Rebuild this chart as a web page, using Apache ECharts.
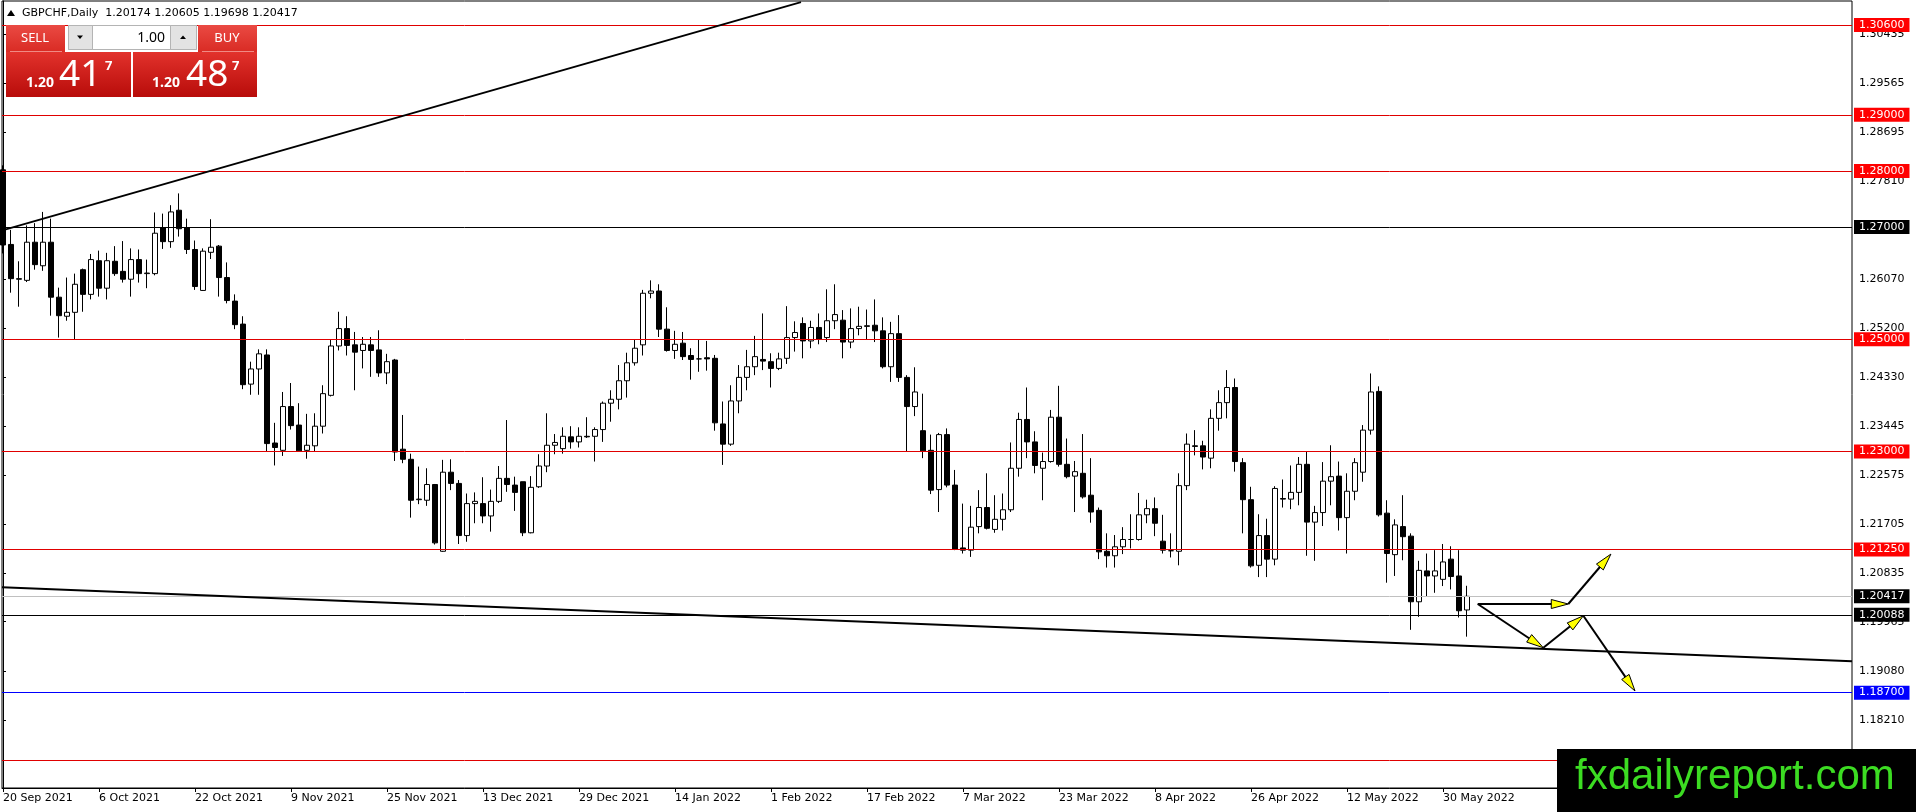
<!DOCTYPE html>
<html><head><meta charset="utf-8">
<script src="https://cdn.jsdelivr.net/npm/echarts@6/dist/echarts.min.js"></script>
<style>html,body{margin:0;padding:0;background:#fff;}#c{width:1916px;height:812px;}</style>
</head><body><div id="c"></div>
<script>
const opens = [1.2802,1.2669,1.2608,1.2605,1.2673,1.2631,1.2673,1.2575,1.2541,1.2548,
1.2624,1.2580,1.2640,1.2591,1.2639,1.2621,1.2607,1.2642,1.2617,1.2617,
1.2699,1.2674,1.2730,1.2699,1.2660,1.2587,1.2655,1.2666,1.2610,1.2568,
1.2527,1.2420,1.2447,1.2472,1.2315,1.2302,1.2380,1.2347,1.2302,1.2310,
1.2345,1.2400,1.2488,1.2519,1.2490,1.2480,1.2490,1.2481,1.2440,1.2463,
1.2304,1.2286,1.2214,1.2213,1.2241,1.2122,1.2263,1.2243,1.2150,1.2207,
1.2207,1.2185,1.2211,1.2252,1.2240,1.2246,1.2155,1.2237,1.2274,1.2311,
1.2305,1.2326,1.2317,1.2327,1.2327,1.2339,1.2386,1.2393,1.2426,1.2458,
1.2490,1.2582,1.2586,1.2518,1.2480,1.2493,1.2471,1.2465,1.2467,1.2466,
1.2349,1.2313,1.2390,1.2432,1.2451,1.2464,1.2460,1.2448,1.2466,1.2503,
1.2528,1.2497,1.2521,1.2503,1.2533,1.2534,1.2495,1.2519,1.2524,1.2525,
1.2515,1.2451,1.2510,1.2432,1.2380,1.2337,1.2302,1.2232,1.2330,1.2240,
1.2128,1.2124,1.2166,1.2200,1.2161,1.2179,1.2196,1.2270,1.2357,1.2317,
1.2270,1.2282,1.2361,1.2277,1.2256,1.2261,1.2222,1.2195,1.2122,1.2114,
1.2130,1.2143,1.2143,1.2187,1.2198,1.2140,1.2123,1.2122,1.2239,1.2310,
1.2310,1.2288,1.2359,1.2387,1.2414,1.2280,1.2214,1.2097,1.2150,1.2108,
1.2216,1.2215,1.2227,1.2277,1.2174,1.2191,1.2247,1.2256,1.2182,1.2229,
1.2263,1.2338,1.2407,1.2190,1.2116,1.2166,1.2149,1.2032,1.2087,1.2078,
1.2072,1.2108,1.2078,1.20174];
const highs = [1.2810,1.2695,1.2639,1.2703,1.2707,1.2727,1.2715,1.2592,1.2610,1.2617,
1.2626,1.2652,1.2658,1.2654,1.2666,1.2675,1.2662,1.2660,1.2642,1.2726,
1.2724,1.2739,1.2760,1.2715,1.2676,1.2662,1.2714,1.2668,1.2637,1.2580,
1.2541,1.2460,1.2482,1.2482,1.2351,1.2406,1.2422,1.2386,1.2367,1.2368,
1.2418,1.2500,1.2549,1.2541,1.2513,1.2504,1.2504,1.2516,1.2474,1.2465,
1.2365,1.2296,1.2273,1.2270,1.2242,1.2285,1.2286,1.2249,1.2225,1.2227,
1.2254,1.2232,1.2274,1.2356,1.2255,1.2246,1.2256,1.2295,1.2368,1.2331,
1.2343,1.2345,1.2343,1.2361,1.2343,1.2389,1.2409,1.2454,1.2476,1.2499,
1.2588,1.2605,1.2598,1.2557,1.2515,1.2513,1.2484,1.2500,1.2497,1.2472,
1.2389,1.2418,1.2454,1.2481,1.2506,1.2546,1.2475,1.2476,1.2559,1.2532,
1.2539,1.2533,1.2546,1.2589,1.2598,1.2552,1.2555,1.2558,1.2553,1.2571,
1.2539,1.2531,1.2543,1.2436,1.2450,1.2403,1.2330,1.2333,1.2341,1.2267,
1.2207,1.2203,1.2231,1.2261,1.2222,1.2225,1.2316,1.2369,1.2414,1.2336,
1.2298,1.2374,1.2417,1.2323,1.2283,1.2331,1.2288,1.2200,1.2154,1.2151,
1.2165,1.2188,1.2226,1.2214,1.2218,1.2187,1.2154,1.2261,1.2332,1.2338,
1.2319,1.2375,1.2409,1.2445,1.2430,1.2288,1.2237,1.2188,1.2180,1.2238,
1.2250,1.2275,1.2290,1.2300,1.2203,1.2281,1.2311,1.2282,1.2261,1.2288,
1.2347,1.2439,1.2416,1.2213,1.2179,1.2222,1.2154,1.2105,1.2118,1.2124,
1.2135,1.2131,1.2124,1.20605];
const lows = [1.2653,1.2583,1.2558,1.2602,1.2624,1.2622,1.2542,1.2503,1.2533,1.2500,
1.2549,1.2571,1.2576,1.2571,1.2613,1.2601,1.2576,1.2601,1.2591,1.2614,
1.2661,1.2663,1.2683,1.2652,1.2588,1.2586,1.2643,1.2576,1.2564,1.2518,
1.2411,1.2401,1.2401,1.2299,1.2275,1.2292,1.2339,1.2299,1.2287,1.2299,
1.2332,1.2398,1.2480,1.2471,1.2409,1.2448,1.2433,1.2433,1.2420,1.2283,
1.2279,1.2182,1.2206,1.2203,1.2134,1.2121,1.2231,1.2135,1.2139,1.2172,
1.2172,1.2157,1.2208,1.2228,1.2194,1.2149,1.2154,1.2235,1.2263,1.2295,
1.2296,1.2305,1.2307,1.2324,1.2282,1.2317,1.2353,1.2375,1.2396,1.2453,
1.2471,1.2573,1.2504,1.2478,1.2465,1.2463,1.2428,1.2442,1.2444,1.2337,
1.2276,1.2310,1.2368,1.2409,1.2436,1.2445,1.2414,1.2445,1.2456,1.2478,
1.2466,1.2484,1.2491,1.2495,1.2518,1.2466,1.2484,1.2507,1.2500,1.2495,
1.2448,1.2424,1.2424,1.2300,1.2363,1.2288,1.2224,1.2192,1.2236,1.2124,
1.2118,1.2112,1.2154,1.2161,1.2155,1.2159,1.2192,1.2255,1.2288,1.2261,
1.2213,1.2280,1.2273,1.2252,1.2192,1.2216,1.2173,1.2108,1.2093,1.2093,
1.2117,1.2127,1.2141,1.2172,1.2149,1.2118,1.2111,1.2097,1.2231,1.2293,
1.2268,1.2270,1.2337,1.2359,1.2264,1.2154,1.2093,1.2076,1.2076,1.2097,
1.2200,1.2197,1.2204,1.2114,1.2105,1.2167,1.2204,1.2159,1.2118,1.2213,
1.2246,1.2330,1.2184,1.2066,1.2078,1.2106,1.1982,1.2005,1.2041,1.2048,
1.2060,1.2054,1.2004,1.19698];
const closes = [1.2668,1.2608,1.2607,1.2673,1.2633,1.2673,1.2575,1.2542,1.2548,1.2598,
1.2580,1.2642,1.2591,1.2640,1.2617,1.2607,1.2642,1.2617,1.2618,1.2689,
1.2674,1.2727,1.2697,1.2660,1.2594,1.2657,1.2664,1.2610,1.2569,1.2526,
1.2419,1.2447,1.2474,1.2314,1.2307,1.2380,1.2346,1.2301,1.2311,1.2345,
1.2403,1.2488,1.2519,1.2489,1.2477,1.2491,1.2480,1.2440,1.2460,1.2299,
1.2286,1.2213,1.2215,1.2241,1.2137,1.2263,1.2243,1.2150,1.2207,1.2211,
1.2185,1.2211,1.2252,1.2241,1.2227,1.2155,1.2236,1.2274,1.2311,1.2316,
1.2327,1.2317,1.2327,1.2326,1.2339,1.2386,1.2393,1.2426,1.2458,1.2484,
1.2582,1.2586,1.2518,1.2480,1.2491,1.2469,1.2464,1.2465,1.2465,1.2351,
1.2313,1.2390,1.2432,1.2451,1.2469,1.2461,1.2448,1.2465,1.2503,1.2512,
1.2497,1.2521,1.2500,1.2533,1.2544,1.2495,1.2519,1.2523,1.2523,1.2515,
1.2451,1.2510,1.2432,1.2380,1.2406,1.2301,1.2231,1.2330,1.2240,1.2126,
1.2124,1.2165,1.2200,1.2163,1.2179,1.2196,1.2270,1.2357,1.2317,1.2275,
1.2282,1.2361,1.2277,1.2255,1.2264,1.2219,1.2192,1.2121,1.2114,1.2130,
1.2143,1.2143,1.2187,1.2198,1.2172,1.2124,1.2123,1.2239,1.2313,1.2309,
1.2290,1.2359,1.2387,1.2414,1.2282,1.2214,1.2096,1.2150,1.2108,1.2234,
1.2215,1.2227,1.2277,1.2174,1.2191,1.2247,1.2255,1.2182,1.2229,1.2280,
1.2338,1.2406,1.2187,1.2118,1.2169,1.2148,1.2032,1.2088,1.2078,1.2087,
1.2103,1.2077,1.2016,1.20417];

const dateLabels = ['20 Sep 2021','6 Oct 2021','22 Oct 2021','9 Nov 2021','25 Nov 2021','13 Dec 2021','29 Dec 2021','14 Jan 2022','1 Feb 2022','17 Feb 2022','7 Mar 2022','23 Mar 2022','8 Apr 2022','26 Apr 2022','12 May 2022','30 May 2022'];
const dateTickIndex = [0,12,24,36,48,60,72,84,96,108,120,132,144,156,168,180];
const priceTicks = [1.30435,1.29565,1.28695,1.27810,1.26070,1.25200,1.24330,1.23445,1.22575,1.21705,1.20835,1.19965,1.19080,1.18210];

const redLevels = [1.306,1.29,1.28,1.25,1.23,1.2125];
const redLevelNoLabel = [1.175];
const blackLevels = [1.27,1.20088];
const bidLevel = [1.20417];
const blueLevels = [1.187];

const upperTrend = [[0.125,1.2695],[99.75,1.3101]];
const lowerTrend = [[-0.125,1.2058],[231.125,1.1926]];
const arrowFrom = [[184.34,1.2028],[195.66,1.2028],[184.34,1.2028],[192.54,1.1950],[197.54,1.2007]];
const arrowTo   = [[195.66,1.2028],[200.99,1.2117],[192.54,1.1950],[197.54,1.2007],[204.0,1.1873]];

const headerText = 'GBPCHF,Daily  1.20174 1.20605 1.19698 1.20417';
const sellPrice = ['1.20','41','7'];
const buyPrice = ['1.20','48','7'];
const lotText = '1.00';
const watermark = 'fxdailyreport.com';

const FONT = 'DejaVu Sans';
const candleData = opens.map((o,i)=>[i,o,closes[i],lows[i],highs[i]]);

function lvl(v, color, bg, showLabel){
  return {yAxis:v, lineStyle:{color:color,width:1,type:'solid'},
    label:{show:showLabel, position:'end', distance:2, formatter:()=>v.toFixed(5),
      color:'#fff', backgroundColor:bg, padding:[1,5,0,5], fontSize:11, lineHeight:13, fontFamily:FONT}};
}
const markData = [];
redLevels.forEach(v=>markData.push(lvl(v,'#e00000','#ff0000',true)));
redLevelNoLabel.forEach(v=>markData.push(lvl(v,'#e00000','#ff0000',false)));
blackLevels.forEach(v=>markData.push(lvl(v,'#000000','#000000',true)));
bidLevel.forEach(v=>markData.push(lvl(v,'#c0c0c0','#000000',true)));
blueLevels.forEach(v=>markData.push(lvl(v,'#0000ff','#0000ff',true)));

const arrowData = arrowFrom.map((f,i)=>[f[0],f[1],arrowTo[i][0],arrowTo[i][1]]);

const chart = echarts.init(document.getElementById('c'), null, {renderer:'canvas'});
const redGrad = (a,b)=>new echarts.graphic.LinearGradient(0,0,0,1,[{offset:0,color:a},{offset:1,color:b}]);

const option = {
  animation:false,
  backgroundColor:'#fff',
  grid:{left:2,right:64,top:1,bottom:24,show:true,borderColor:'#000',borderWidth:1,backgroundColor:'transparent',containLabel:false,outerBoundsMode:'none'},
  xAxis:{type:'value',min:-0.125,max:231.125,
    splitLine:{show:false},
    axisLine:{show:true,onZero:false,lineStyle:{color:'#000',width:1}},
    axisTick:{show:true,length:4,customValues:dateTickIndex,lineStyle:{color:'#000'}},
    axisLabel:{show:true,customValues:dateTickIndex,formatter:v=>dateLabels[dateTickIndex.indexOf(Math.round(v))]||'',
      align:'left',margin:5,color:'#000',fontSize:11,fontFamily:FONT}},
  yAxis:{type:'value',position:'right',min:1.1700,max:1.3103,
    splitLine:{show:false},
    axisLine:{show:true,lineStyle:{color:'#000',width:1}},
    axisTick:{show:true,length:3,customValues:priceTicks,lineStyle:{color:'#000'}},
    axisLabel:{show:true,customValues:priceTicks,formatter:v=>Number(v).toFixed(5),margin:7,color:'#000',fontSize:11,fontFamily:FONT}},
  series:[
    {type:'candlestick',data:candleData,barWidth:5,clip:true,silent:true,
      itemStyle:{color:'#ffffff',color0:'#000000',borderColor:'#000000',borderColor0:'#000000',borderColorDoji:'#000000',borderWidth:1},
      markLine:{symbol:'none',silent:true,animation:false,precision:5,data:markData}},
    {type:'line',data:upperTrend,showSymbol:false,symbol:'none',silent:true,lineStyle:{color:'#000',width:2},z:5},
    {type:'line',data:lowerTrend,showSymbol:false,symbol:'none',silent:true,lineStyle:{color:'#000',width:2},z:5},
    {type:'custom',data:arrowData,silent:true,z:6,
      dimensions:['x1','y1','x2','y2'],encode:{x:[0,2],y:[1,3]},
      renderItem:function(params,api){
        const a=api.coord([api.value(0),api.value(1)]);
        const b=api.coord([api.value(2),api.value(3)]);
        const dx=b[0]-a[0],dy=b[1]-a[1];const len=Math.hypot(dx,dy)||1;
        const ux=dx/len,uy=dy/len;const L=17,W=4.5;
        const base=[b[0]-ux*L,b[1]-uy*L];
        const p1=[base[0]-uy*W,base[1]+ux*W],p2=[base[0]+uy*W,base[1]-ux*W];
        return {type:'group',children:[
          {type:'line',shape:{x1:a[0],y1:a[1],x2:base[0]+ux*3,y2:base[1]+uy*3},style:{stroke:'#000',lineWidth:2}},
          {type:'polygon',shape:{points:[b,p1,p2]},style:{fill:'#ffff00',stroke:'#000',lineWidth:1}}
        ]};
      }}
  ],
  graphic:[
    {type:'polygon',z:100,shape:{points:[[7,16],[11,10],[15,16]]},style:{fill:'#000'}},
    {type:'text',z:100,x:22,y:13,style:{text:headerText,font:'11px "DejaVu Sans"',fill:'#000',textVerticalAlign:'middle',verticalAlign:'middle'}},
    {type:'rect',z:100,shape:{x:6,y:25,width:59,height:27},style:{fill:redGrad('#ea4a43','#d92b24')}},
    {type:'rect',z:101,shape:{x:10,y:51,width:52,height:1},style:{fill:'#f08a84'}},
    {type:'text',z:102,x:35,y:38,style:{text:'SELL',font:'13px "Noto Sans"',fill:'#fff',textAlign:'center',align:'center',textVerticalAlign:'middle',verticalAlign:'middle'}},
    {type:'rect',z:100,shape:{x:6,y:52,width:125,height:45},style:{fill:redGrad('#e2322c','#b80c0a')}},
    {type:'text',z:102,x:26,y:83,style:{text:sellPrice[0],font:'bold 14px "Noto Sans"',fill:'#fff',textVerticalAlign:'middle',verticalAlign:'middle'}},
    {type:'text',z:102,x:59,y:75,style:{text:sellPrice[1],font:'37px "Noto Sans"',fill:'#fff',textVerticalAlign:'middle',verticalAlign:'middle'}},
    {type:'text',z:102,x:105,y:66,style:{text:sellPrice[2],font:'bold 13px "Noto Sans"',fill:'#fff',textVerticalAlign:'middle',verticalAlign:'middle'}},
    {type:'rect',z:100,shape:{x:198,y:25,width:59,height:27},style:{fill:redGrad('#ea4a43','#d92b24')}},
    {type:'rect',z:101,shape:{x:202,y:51,width:52,height:1},style:{fill:'#f08a84'}},
    {type:'text',z:102,x:227,y:38,style:{text:'BUY',font:'13px "Noto Sans"',fill:'#fff',textAlign:'center',align:'center',textVerticalAlign:'middle',verticalAlign:'middle'}},
    {type:'rect',z:100,shape:{x:133,y:52,width:124,height:45},style:{fill:redGrad('#e2322c','#b80c0a')}},
    {type:'text',z:102,x:152,y:83,style:{text:buyPrice[0],font:'bold 14px "Noto Sans"',fill:'#fff',textVerticalAlign:'middle',verticalAlign:'middle'}},
    {type:'text',z:102,x:186,y:75,style:{text:buyPrice[1],font:'37px "Noto Sans"',fill:'#fff',textVerticalAlign:'middle',verticalAlign:'middle'}},
    {type:'text',z:102,x:232,y:66,style:{text:buyPrice[2],font:'bold 13px "Noto Sans"',fill:'#fff',textVerticalAlign:'middle',verticalAlign:'middle'}},
    {type:'rect',z:100,shape:{x:68.5,y:25.5,width:128,height:24},style:{fill:'#fff',stroke:'#b4b4b4',lineWidth:1}},
    {type:'rect',z:101,shape:{x:68.5,y:25.5,width:24,height:24},style:{fill:'#e3e3e3',stroke:'#b4b4b4',lineWidth:1}},
    {type:'rect',z:101,shape:{x:170.5,y:25.5,width:26,height:24},style:{fill:'#e3e3e3',stroke:'#b4b4b4',lineWidth:1}},
    {type:'polygon',z:102,shape:{points:[[77,35.5],[83,35.5],[80,39]]},style:{fill:'#000'}},
    {type:'polygon',z:102,shape:{points:[[180,39],[186,39],[183,35.5]]},style:{fill:'#000'}},
    {type:'text',z:102,x:165,y:38,style:{text:lotText,font:'14px "Noto Sans"',fill:'#000',textAlign:'right',align:'right',textVerticalAlign:'middle',verticalAlign:'middle'}},
    {type:'rect',z:100,shape:{x:1557,y:749,width:359,height:63},style:{fill:'#000'}},
    {type:'text',z:101,x:1575,y:777,style:{text:watermark,font:'42px "Liberation Sans"',fill:'#3cdc22',textVerticalAlign:'middle',verticalAlign:'middle'}}
  ]
};
chart.setOption(option);
</script></body></html>
